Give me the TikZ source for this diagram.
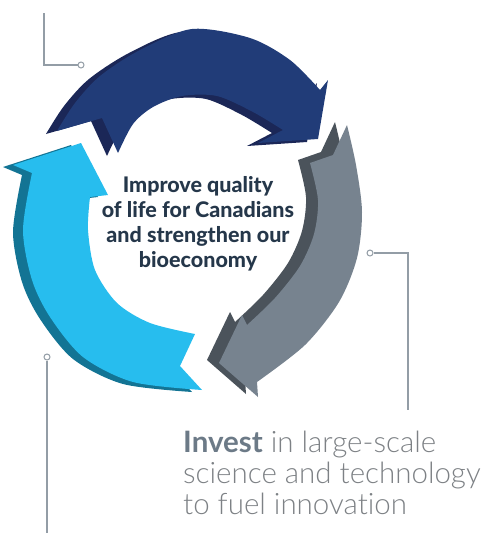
\documentclass[tikz,border=0pt]{standalone}
\usepackage{fontspec}
\setmainfont{Lato}
\newfontfamily\lightfont{Lato Light}[Ligatures={NoCommon}]
\newfontfamily\heavyfont{Lato Heavy}
\usepackage{xcolor}
\usetikzlibrary{positioning}

\definecolor{navy}{HTML}{213C78}
\definecolor{navyshade}{HTML}{1B2757}
\definecolor{slate}{HTML}{77838F}
\definecolor{slateshade}{HTML}{4B535B}
\definecolor{sky}{HTML}{27BDEE}
\definecolor{skyshade}{HTML}{137494}
\definecolor{leadgray}{HTML}{939DA6}
\definecolor{goalink}{HTML}{25374A}
\definecolor{investink}{HTML}{6C7A87}
\definecolor{bodyink}{HTML}{7D8185}

% outlines of the three arrows (pixel units, y downwards)
\newcommand{\navypath}{(57,131) -- plot[smooth] coordinates {(57,131) (75,103) (100,76) (140,50) (192,29) (250,38) (290,60) (320,90)}
  -- (328,80) -- (318,139) -- (258,143) -- (283,130)
  -- plot[smooth] coordinates {(283,130) (253,112) (217,96) (182,96) (153,107) (133,124) (118,153)}
  -- (102,118) -- cycle}
\newcommand{\slatepath}{(347,125) -- plot[smooth] coordinates {(347,125) (356,165) (362,212) (357,258) (339,302) (305,345) (257,382)}
  -- (258,397) -- (219,363) -- (242,315) -- (247,325)
  -- plot[smooth] coordinates {(247,325) (275,298) (300,266) (314,234) (318,200) (310,163)}
  -- (333,155) -- cycle}
\newcommand{\skypath}{(195,334) -- (180,366) -- (202,390)
  -- plot[smooth] coordinates {(202,390) (133,382) (83,357) (50,317) (32,280) (23,230) (32,173)}
  -- (13,165) -- (81,143) -- (108,195) -- (90,197)
  -- plot[smooth] coordinates {(90,197) (88,230) (95,270) (117,303) (150,323) (195,334)}
  -- cycle}

\tikzset{
  leader/.style={draw=leadgray, line width=1.2pt},
  dotend/.style={circle, draw=leadgray, fill=white, line width=1pt, minimum size=6pt, inner sep=0pt},
  goaltext/.style={anchor=north, align=center, inner sep=0pt, text=goalink,
    font=\fontsize{21.5}{25}\selectfont\heavyfont},
  investtext/.style={anchor=north west, align=left, inner sep=0pt, text=bodyink,
    font=\fontsize{29.5}{31}\selectfont\lightfont}
}

\begin{document}
\begin{tikzpicture}[x=1pt, y=-1pt]
  \useasboundingbox (0,0) rectangle (488,533);

  % cycle arrows, each over its darker side
  \fill[skyshade, shift={(-10,2)}] \skypath;
  \fill[sky] \skypath;
  \fill[navyshade, shift={(-11,3)}] \navypath;
  \fill[navy] \navypath;
  \fill[slateshade, shift={(-12,-3)}] \slatepath;
  \fill[slate] \slatepath;

  % leaders
  \node[dotend] (navyDot) at (81,65) {};
  \coordinate (navyEnd) at (44,13);
  \draw[leader] (navyDot) -| (navyEnd);

  \node[dotend] (slateDot) at (370,253) {};
  \coordinate (slateEnd) at (408,410);
  \draw[leader] (slateDot) -| (slateEnd);

  \node[dotend] (skyDot) at (47,357) {};
  \coordinate (skyEnd) at (47,533);
  \draw[leader] (skyDot) -- (skyEnd);

  % texts
  \node[goaltext] (goal) at (198,176) {Improve quality\\of life for Canadians\\and strengthen our\\bioeconomy};
  \node[investtext] (invest) at (183,431) {{\fontspec{Lato}\bfseries\color{investink}Invest} in large-scale\\science and technology\\to fuel innovation};
\end{tikzpicture}
\end{document}
